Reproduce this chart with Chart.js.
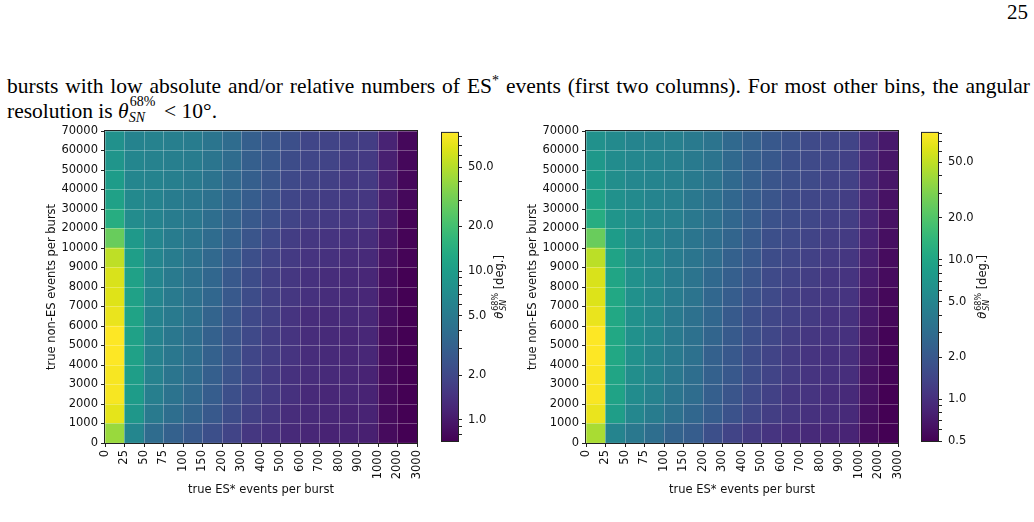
<!DOCTYPE html>
<html>
<head>
<meta charset="utf-8">
<script src="https://cdn.jsdelivr.net/npm/chart.js@4.4.1/dist/chart.umd.min.js"></script>
<style>
  html, body { margin: 0; padding: 0; background: #fff; }
  body { width: 1034px; height: 522px; position: relative; overflow: hidden; font-family: 'Liberation Serif', serif; color: #000; }
  #pageno { position: absolute; right: 6px; top: 0px; font-size: 21px; line-height: 25px; }
  .line { position: absolute; left: 7px; width: 1023px; font-size: 21.5px; line-height: 25px; }
  #line1 { top: 74px; text-align: justify; text-align-last: justify; }
  #line2 { top: 99px; }
  .star { position: relative; top: -8px; font-size: 14px; line-height: 0; }
  .scr { position: relative; display: inline-block; width: 30px; height: 1px; }
  .scr .up { position: absolute; left: 1px; top: -22px; font-size: 14px; line-height: 14px; }
  .scr .dn { position: absolute; left: 0px; top: -6px; font-size: 14px; line-height: 14px; font-style: italic; }
  canvas { position: absolute; }
</style>
</head>
<body>
<div id="pageno">25</div>
<div class="line" id="line1">bursts with low absolute and/or relative numbers of ES<span class="star">*</span> events (first two columns). For most other bins, the angular</div>
<div class="line" id="line2">resolution is <i>θ</i><span class="scr"><span class="up">68%</span><span class="dn">SN</span></span> &lt; 10°.</div>

<canvas id="mapLeft" width="440" height="385" style="left:0px; top:120px"></canvas>
<canvas id="barLeft" width="90" height="385" style="left:430px; top:120px"></canvas>
<canvas id="mapRight" width="440" height="385" style="left:480px; top:120px"></canvas>
<canvas id="barRight" width="124" height="385" style="left:910px; top:120px"></canvas>

<script>
// bin edges shown on the axes
const esEdges = ['0', '25', '50', '75', '100', '150', '200', '300', '400', '500',
                 '600', '700', '800', '900', '1000', '2000', '3000'];
const nonEsEdges = ['0', '1000', '2000', '3000', '4000', '5000', '6000', '7000', '8000',
                    '9000', '10000', '20000', '30000', '40000', '50000', '60000', '70000'];

// colorbar ticks (labelled / unlabelled)
const colorbarMajor = [0.5, 1, 2, 5, 10, 20, 50];
const colorbarMinor = [0.6, 0.7, 0.8, 0.9, 3, 4, 6, 7, 8, 9, 30, 40, 60, 70, 80, 90];

// theta_SN^68% in degrees, row 0 = 0-1000 non-ES events, columns = ES* bins
const thetaLeft = [
  [41, 6.4, 3.8, 3.1, 2.7, 2.25, 1.86, 1.54, 1.40, 1.27, 1.21, 1.15, 1.15, 1.10, 0.82, 0.72],
  [70, 9.0, 5.1, 4.0, 3.3, 2.7, 2.15, 1.77, 1.54, 1.33, 1.27, 1.21, 1.15, 1.15, 0.82, 0.72],
  [81, 9.9, 5.6, 4.4, 3.6, 2.9, 2.25, 1.86, 1.61, 1.40, 1.27, 1.21, 1.21, 1.15, 0.82, 0.72],
  [81, 10.4, 5.9, 4.6, 3.8, 3.0, 2.4, 1.95, 1.61, 1.40, 1.33, 1.27, 1.21, 1.15, 0.82, 0.72],
  [85, 10.9, 5.9, 4.8, 4.0, 3.1, 2.5, 1.95, 1.69, 1.47, 1.33, 1.27, 1.21, 1.21, 0.82, 0.72],
  [85, 10.9, 6.1, 4.8, 4.0, 3.1, 2.5, 2.05, 1.69, 1.47, 1.33, 1.27, 1.21, 1.21, 0.82, 0.72],
  [73, 11.4, 6.1, 5.1, 4.2, 3.3, 2.6, 2.05, 1.77, 1.47, 1.33, 1.27, 1.27, 1.21, 0.86, 0.72],
  [67, 10.9, 6.4, 5.1, 4.2, 3.5, 2.7, 2.15, 1.77, 1.54, 1.40, 1.33, 1.27, 1.21, 0.86, 0.72],
  [64, 10.9, 6.4, 5.1, 4.2, 3.5, 2.7, 2.15, 1.77, 1.54, 1.40, 1.33, 1.27, 1.21, 0.86, 0.72],
  [53, 10.4, 6.4, 5.3, 4.4, 3.6, 2.9, 2.25, 1.86, 1.61, 1.47, 1.40, 1.33, 1.27, 0.91, 0.75],
  [28, 9.4, 6.4, 5.3, 4.6, 3.8, 3.1, 2.5, 2.05, 1.69, 1.54, 1.47, 1.40, 1.33, 0.95, 0.75],
  [13.8, 7.1, 6.1, 5.3, 4.8, 4.0, 3.3, 2.7, 2.25, 1.86, 1.69, 1.61, 1.54, 1.47, 1.05, 0.75],
  [10.9, 6.8, 6.1, 5.3, 4.8, 4.2, 3.5, 2.9, 2.4, 1.95, 1.77, 1.69, 1.61, 1.54, 1.05, 0.79],
  [9.9, 6.4, 6.1, 5.6, 5.1, 4.4, 3.6, 3.0, 2.5, 2.05, 1.86, 1.77, 1.61, 1.61, 1.10, 0.79],
  [8.6, 6.4, 5.9, 5.6, 5.3, 4.6, 3.8, 3.0, 2.6, 2.15, 1.95, 1.86, 1.69, 1.61, 1.10, 0.79],
  [7.8, 6.1, 5.9, 5.6, 5.3, 4.6, 3.8, 3.0, 2.6, 2.25, 1.95, 1.86, 1.77, 1.69, 1.15, 0.79]
];

const thetaRight = [
  [42, 4.9, 3.8, 3.1, 2.5, 2.2, 1.70, 1.38, 1.19, 1.07, 0.97, 0.92, 0.87, 0.83, 0.58, 0.50],
  [69, 8.6, 5.2, 4.2, 3.3, 2.7, 2.2, 1.78, 1.46, 1.25, 1.13, 1.02, 0.97, 0.92, 0.61, 0.50],
  [78, 9.5, 5.8, 4.7, 3.6, 3.0, 2.3, 1.88, 1.53, 1.31, 1.13, 1.07, 0.97, 0.92, 0.64, 0.50],
  [78, 10.0, 6.0, 4.9, 3.8, 3.1, 2.4, 2.0, 1.61, 1.38, 1.19, 1.07, 1.02, 0.97, 0.64, 0.52],
  [81, 10.5, 6.4, 4.9, 4.0, 3.3, 2.4, 2.0, 1.61, 1.38, 1.19, 1.07, 1.02, 0.97, 0.68, 0.52],
  [81, 10.5, 6.4, 5.2, 4.0, 3.3, 2.6, 2.1, 1.70, 1.46, 1.25, 1.13, 1.07, 1.02, 0.68, 0.52],
  [69, 10.5, 6.4, 5.2, 4.0, 3.3, 2.7, 2.1, 1.70, 1.46, 1.31, 1.19, 1.07, 1.02, 0.71, 0.55],
  [62, 10.5, 6.4, 5.2, 4.2, 3.5, 2.7, 2.2, 1.78, 1.53, 1.31, 1.19, 1.13, 1.07, 0.71, 0.55],
  [60, 10.0, 6.4, 5.2, 4.2, 3.5, 2.8, 2.3, 1.88, 1.53, 1.38, 1.25, 1.13, 1.07, 0.75, 0.58],
  [48, 9.5, 6.0, 5.2, 4.2, 3.6, 3.0, 2.4, 2.0, 1.61, 1.46, 1.31, 1.19, 1.13, 0.79, 0.58],
  [25, 8.2, 5.8, 4.9, 4.2, 3.6, 3.1, 2.6, 2.1, 1.70, 1.53, 1.38, 1.25, 1.19, 0.83, 0.61],
  [11.7, 7.0, 5.8, 4.9, 4.5, 3.8, 3.3, 2.7, 2.2, 1.78, 1.61, 1.46, 1.31, 1.25, 0.87, 0.64],
  [9.5, 6.4, 5.5, 4.9, 4.5, 3.8, 3.3, 2.7, 2.2, 1.88, 1.61, 1.46, 1.38, 1.25, 0.87, 0.64],
  [8.2, 6.0, 5.2, 4.9, 4.5, 4.0, 3.5, 2.8, 2.3, 1.88, 1.70, 1.53, 1.38, 1.31, 0.92, 0.68],
  [7.4, 5.8, 5.2, 4.9, 4.5, 4.0, 3.5, 2.8, 2.3, 2.0, 1.70, 1.53, 1.46, 1.31, 0.92, 0.68],
  [6.4, 5.5, 4.9, 4.7, 4.5, 4.0, 3.5, 2.8, 2.4, 2.0, 1.78, 1.53, 1.46, 1.38, 0.97, 0.71]
];

// viridis, sampled every 0.05
const VIRIDIS = ['#440154', '#471365', '#482475', '#463480', '#414487', '#3b528b', '#355f8d',
  '#2f6c8e', '#2a788e', '#25848e', '#21918c', '#1e9c89', '#22a884', '#2fb47c', '#44bf70',
  '#5ec962', '#7ad151', '#9bd93c', '#bddf26', '#dfe318', '#fde725'];

Chart.defaults.font.family = '"DejaVu Sans", sans-serif';
Chart.defaults.font.size = 11.5;
Chart.defaults.color = '#111';

function hexRgb(h) {
  return [1, 3, 5].map(i => parseInt(h.slice(i, i + 2), 16));
}

function viridis(t) {
  t = Math.min(1, Math.max(0, t));
  const p = t * (VIRIDIS.length - 1);
  const i = Math.min(Math.floor(p), VIRIDIS.length - 2);
  const f = p - i;
  const a = hexRgb(VIRIDIS[i]), b = hexRgb(VIRIDIS[i + 1]);
  const c = a.map((v, k) => Math.round(v + (b[k] - v) * f));
  return 'rgb(' + c.join(',') + ')';
}

// black outline round the plot area (matplotlib spines)
const frame = {
  id: 'frame',
  afterDraw(chart) {
    const { ctx, chartArea: a } = chart;
    ctx.save();
    ctx.strokeStyle = '#222';
    ctx.lineWidth = 1;
    ctx.strokeRect(a.left - 0.5, a.top - 0.5, a.right - a.left + 1, a.bottom - a.top + 1);
    ctx.restore();
  }
};

// rotated colorbar label with sub/superscript
const cbarLabel = {
  id: 'cbarLabel',
  afterDraw(chart, args, opts) {
    const { ctx, chartArea: a } = chart;
    const x = a.right + opts.offset;
    const y = (a.top + a.bottom) / 2;
    const fTheta = 'oblique 11.5px "DejaVu Sans"';
    const fSup = '8px "DejaVu Sans"';
    const fSub = 'oblique 8px "DejaVu Sans"';
    const fRest = '11.5px "DejaVu Sans"';
    ctx.save();
    ctx.translate(x, y);
    ctx.rotate(-Math.PI / 2);
    ctx.fillStyle = '#111';
    ctx.textBaseline = 'alphabetic';
    ctx.font = fTheta; const wT = ctx.measureText('θ').width;
    ctx.font = fSup; const wSup = ctx.measureText('68%').width;
    ctx.font = fSub; const wSub = ctx.measureText('SN').width;
    ctx.font = fRest; const wR = ctx.measureText(' [deg.]').width;
    const total = wT + Math.max(wSup, wSub) + 1 + wR;
    let cx = -total / 2;
    const base = 4;
    ctx.font = fTheta; ctx.fillText('θ', cx, base); cx += wT + 1;
    ctx.font = fSup; ctx.fillText('68%', cx, base - 5);
    ctx.font = fSub; ctx.fillText('SN', cx, base + 3);
    cx += Math.max(wSup, wSub);
    ctx.font = fRest; ctx.fillText(' [deg.]', cx, base);
    ctx.restore();
  }
};

function heatmap(id, theta, pad) {
  const flat = theta.flat();
  const lo = Math.min(...flat), hi = Math.max(...flat);
  const norm = v => Math.log(v / lo) / Math.log(hi / lo);
  const bins = esEdges.slice(0, -1).map((e, i) => e + '-' + esEdges[i + 1]);
  const gridLine = {
    z: 1, offset: false, color: 'rgba(255,255,255,0.35)', lineWidth: 0.8,
    tickColor: '#222', tickLength: 4, tickWidth: 1
  };

  const datasets = theta.map((row, r) => ({
    label: nonEsEdges[r] + '-' + nonEsEdges[r + 1],
    data: row.map(() => 1),
    backgroundColor: row.map(v => viridis(norm(v))),
    borderWidth: 0,
    barPercentage: 1,
    categoryPercentage: 1
  }));

  new Chart(document.getElementById(id), {
    type: 'bar',
    data: { labels: bins, datasets: datasets },
    options: {
      responsive: false,
      animation: false,
      events: [],
      layout: { padding: pad },
      plugins: { legend: { display: false }, tooltip: { enabled: false } },
      scales: {
        x: { stacked: true, display: false },
        xt: {
          type: 'linear', position: 'bottom', min: 0, max: 16, offset: false,
          grid: gridLine,
          border: { display: false },
          ticks: {
            z: 1, stepSize: 1, autoSkip: false, maxRotation: 90, minRotation: 90, padding: 3,
            callback: v => esEdges[v]
          },
          title: { display: true, text: 'true ES* events per burst' },
          afterFit: s => { s.height = 58; }
        },
        y: {
          stacked: true, min: 0, max: 16, offset: false,
          grid: gridLine,
          border: { display: false },
          ticks: { z: 1, stepSize: 1, autoSkip: false, padding: 3, callback: v => nonEsEdges[v] },
          title: { display: true, text: 'true non-ES events per burst' },
          afterFit: s => { s.width = 64; }
        }
      }
    },
    plugins: [frame]
  });
  return [lo, hi];
}

function colorbar(id, lo, hi, labelOffset) {
  const el = document.getElementById(id);
  const ticks = colorbarMajor.concat(colorbarMinor).filter(v => v >= lo && v <= hi).sort((a, b) => a - b);

  new Chart(el, {
    type: 'bar',
    data: {
      labels: [''],
      datasets: [{
        data: [[lo, hi]],
        borderWidth: 0,
        barPercentage: 1,
        categoryPercentage: 1,
        backgroundColor: ctx => {
          const area = ctx.chart.chartArea;
          if (!area) return '#21918c';
          const g = ctx.chart.ctx.createLinearGradient(0, area.bottom, 0, area.top);
          VIRIDIS.forEach((c, i) => g.addColorStop(i / (VIRIDIS.length - 1), c));
          return g;
        }
      }]
    },
    options: {
      responsive: false,
      animation: false,
      events: [],
      layout: { padding: { left: 12, top: 11, bottom: 64, right: el.width - 12 - 16 - 62 } },
      plugins: { legend: { display: false }, tooltip: { enabled: false }, cbarLabel: { offset: labelOffset } },
      scales: {
        x: { display: false },
        y: {
          type: 'logarithmic', position: 'right', min: lo, max: hi, bounds: 'data',
          grid: { drawOnChartArea: false, tickColor: '#222', tickLength: 4, tickWidth: 1 },
          border: { display: false },
          ticks: {
            autoSkip: false, padding: 6,
            callback: v => colorbarMajor.includes(v) ? v.toFixed(1) : ''
          },
          afterBuildTicks: s => { s.ticks = ticks.map(v => ({ value: v })); },
          afterFit: s => { s.width = 62; }
        }
      }
    },
    plugins: [frame, cbarLabel]
  });
}

const [loL, hiL] = heatmap('mapLeft', thetaLeft, { left: 41, top: 11, right: 23, bottom: 4 });
colorbar('barLeft', loL, hiL, 41);

const [loR, hiR] = heatmap('mapRight', thetaRight, { left: 42, top: 11, right: 22, bottom: 4 });
colorbar('barRight', loR, hiR, 44);
</script>
</body>
</html>
